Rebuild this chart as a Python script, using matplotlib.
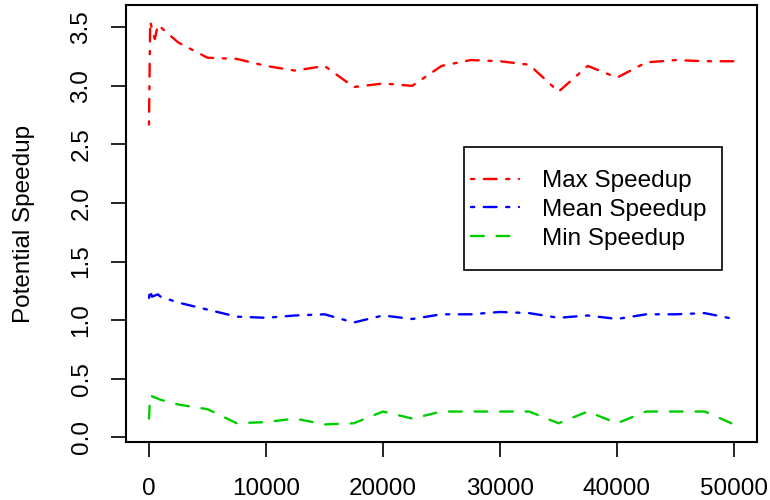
import matplotlib
matplotlib.use("Agg")
import matplotlib.pyplot as plt
from matplotlib.patches import Rectangle

plt.rcParams['font.family'] = ['Liberation Sans', 'DejaVu Sans']
plt.rcParams['lines.scale_dashes'] = False

x = [0, 100, 250, 500, 750, 1000, 2500, 5000, 7500, 10000, 12500, 15000, 17500,
     20000, 22500, 25000, 27500, 30000, 32500, 35000, 37500, 40000, 42500,
     45000, 47500, 50000]
max_speedup = [2.67, 3.55, 3.49, 3.40, 3.52, 3.50, 3.37, 3.24, 3.23, 3.17, 3.13,
               3.17, 2.99, 3.02, 3.00, 3.17, 3.22, 3.21, 3.18, 2.95, 3.17, 3.07,
               3.20, 3.22, 3.21, 3.21]
mean_speedup = [1.19, 1.26, 1.20, 1.21, 1.22, 1.20, 1.15, 1.09, 1.03, 1.02, 1.04,
                1.05, 0.98, 1.04, 1.01, 1.05, 1.05, 1.07, 1.06, 1.02, 1.04, 1.01,
                1.05, 1.05, 1.06, 1.01]
min_speedup = [0.16, 0.36, 0.35, 0.34, 0.33, 0.32, 0.28, 0.24, 0.12, 0.13, 0.16,
               0.11, 0.12, 0.22, 0.16, 0.22, 0.22, 0.22, 0.22, 0.12, 0.22, 0.12,
               0.22, 0.22, 0.22, 0.11]
labels = ["Max Speedup", "Mean Speedup", "Min Speedup"]
xticks = [0, 10000, 20000, 30000, 40000, 50000]
yticks = [0.0, 0.5, 1.0, 1.5, 2.0, 2.5, 3.0, 3.5]

W, H = 770, 500
fig = plt.figure(figsize=(7.7, 5.0), dpi=100)
ax = fig.add_axes([125.6 / W, 1 - 442 / H, (757.4 - 125.6) / W, (442 - 5) / H])

FS = 17.5
u = 2.3
dotdash = (0, (u, 3 * u, 4 * u, 3 * u))
dashed = (0, (4 * u, 4 * u))
lw = 1.7
ax.plot(x, max_speedup, color='#FF0000', lw=lw, linestyle=dotdash,
        dash_capstyle='round', label=labels[0])
ax.plot(x, mean_speedup, color='#0000FF', lw=lw, linestyle=dotdash,
        dash_capstyle='round', label=labels[1])
ax.plot(x, min_speedup, color='#00CD00', lw=lw, linestyle=dashed,
        dash_capstyle='round', label=labels[2])

ax.set_xlim(-2000, 52000)
ax.set_ylim(-0.04, 3.69)
ax.set_xticks(xticks)
ax.set_xticklabels([str(v) for v in xticks])
ax.set_yticks(yticks)
ax.set_yticklabels([f"{v:.1f}" for v in yticks], rotation=90, va='center')
ax.tick_params(axis='both', direction='out', length=10.8, width=1.2, labelsize=FS,
               color='black')
ax.tick_params(axis='x', pad=15)
ax.tick_params(axis='y', pad=13)
for s in ax.spines.values():
    s.set_linewidth(1.5)
    s.set_color('black')
ax.set_ylabel("Potential Speedup", fontsize=FS)
ax.yaxis.set_label_coords((35 - 125.6) / 631.8, 0.5)

# legend frame (R style box) and entries
fig.add_artist(Rectangle((464 / W, 1 - 270 / H), (722 - 464) / W, (270 - 147) / H,
                         transform=fig.transFigure, fill=False, edgecolor='black',
                         linewidth=1.2))
leg = ax.legend(loc='center left', bbox_to_anchor=(471 / W, 1 - 210 / H),
                bbox_transform=fig.transFigure, fontsize=FS, frameon=False,
                handlelength=48 / (FS * 100 / 72), labelspacing=0.28, borderpad=0,
                handletextpad=23 / (FS * 100 / 72), borderaxespad=0)

fig.savefig("out.png", dpi=100)
